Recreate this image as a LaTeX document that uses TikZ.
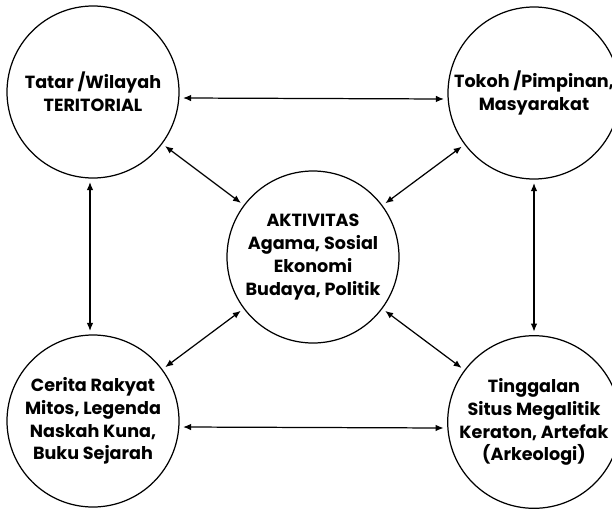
\documentclass[tikz,border=0pt]{standalone}
\usepackage{fontspec}
\setmainfont{Poppins}
\usepackage{xcolor}
\usetikzlibrary{arrows.meta}

\begin{document}
\begin{tikzpicture}[every node/.style={circle, draw, line width=0.7pt, inner sep=0pt, outer sep=2.3pt, minimum size=3.44cm, align=center, font=\fontsize{10}{13}\selectfont\bfseries}]
     \useasboundingbox (0,0) rectangle (12.24,10.18);
     \node (W) at (1.86,8.34) {Tatar /Wilayah\\TERITORIAL};
     \node (T) at (10.68,8.32) {Tokoh /Pimpinan,\\Masyarakat};
     \node (A) at (6.26,5.04) {AKTIVITAS\\Agama, Sosial\\Ekonomi\\Budaya, Politik};
     \node (C) at (1.86,1.76) {Cerita Rakyat\\Mitos, Legenda\\Naskah Kuna,\\Buku Sejarah};
     \node (G) at (10.68,1.74) {Tinggalan\\Situs Megalitik\\Keraton, Artefak\\(Arkeologi)};

     \draw[{Latex[length=1.6mm,width=1.3mm]}-{Latex[length=1.6mm,width=1.3mm]}, line width=0.7pt] ([yshift=-0.12cm]W.east) -- ([yshift=-0.12cm]T.west);
     \draw[{Latex[length=1.6mm,width=1.3mm]}-{Latex[length=1.6mm,width=1.3mm]}, line width=0.7pt] ([yshift=-0.12cm]C.east) -- ([yshift=-0.12cm]G.west);
     \draw[{Latex[length=1.6mm,width=1.3mm]}-{Latex[length=1.6mm,width=1.3mm]}, line width=0.7pt] ([xshift=-0.06cm]W.south) -- ([xshift=-0.06cm]C.north);
     \draw[{Latex[length=1.6mm,width=1.3mm]}-{Latex[length=1.6mm,width=1.3mm]}, line width=0.7pt] (T) -- (G);
     \draw[{Latex[length=1.6mm,width=1.3mm]}-{Latex[length=1.6mm,width=1.3mm]}, line width=0.7pt] (W) -- (A);
     \draw[{Latex[length=1.6mm,width=1.3mm]}-{Latex[length=1.6mm,width=1.3mm]}, line width=0.7pt] (T) -- (A);
     \draw[{Latex[length=1.6mm,width=1.3mm]}-{Latex[length=1.6mm,width=1.3mm]}, line width=0.7pt] (C) -- (A);
     \draw[{Latex[length=1.6mm,width=1.3mm]}-{Latex[length=1.6mm,width=1.3mm]}, line width=0.7pt] (G) -- (A);
 \end{tikzpicture}
\end{document}
